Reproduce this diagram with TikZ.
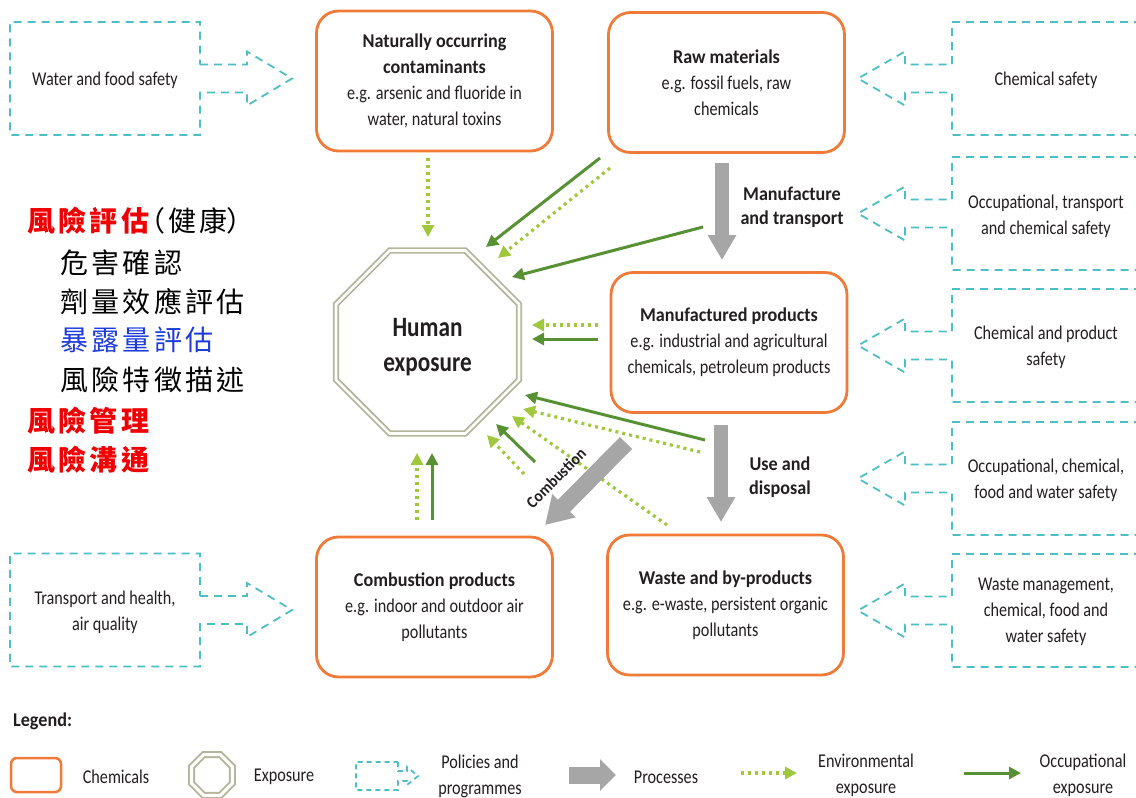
\documentclass[tikz,border=0pt]{standalone}
\usepackage{fontspec}
\setmainfont{Carlito}[FakeStretch=0.83]
\newfontfamily\boldf{Carlito}[FakeStretch=0.93]
\newfontfamily\cjk{Noto Sans CJK TC}[LetterSpace=12]
\usetikzlibrary{arrows.meta,shapes.geometric}
\definecolor{orng}{RGB}{240,122,55}
\definecolor{occg}{RGB}{88,145,52}
\definecolor{envg}{RGB}{160,200,60}
\definecolor{teal2}{RGB}{75,190,198}
\definecolor{octc}{RGB}{180,182,155}
\definecolor{procg}{RGB}{166,166,166}
\definecolor{txtc}{RGB}{35,31,32}
\definecolor{cjkred}{RGB}{240,0,0}
\definecolor{cjkblue}{RGB}{30,60,220}
\newcommand\bt[1]{{\boldf\bfseries #1}}
\newcommand\boxfont{\fontsize{19.5}{26}\selectfont}
\newcommand\octfont{\fontsize{28}{35}\selectfont\bfseries}
\newcommand\lblfont{\fontsize{19.5}{24}\selectfont\boldf\bfseries}
\newcommand\cbfont{\fontsize{16.5}{18}\selectfont\boldf\bfseries}
\newcommand\cjkfont{\fontsize{28}{30}\selectfont\cjk}
\tikzset{
  chem/.style={draw=orng, line width=2.8pt, rounded corners=22pt, minimum width=236pt, minimum height=140pt, align=center, font=\boxfont, text=txtc, inner sep=0pt},
  occ/.style={draw=occg, line width=3pt, -{Triangle[length=12pt,width=12pt]}},
  env/.style={draw=envg, line width=3.2pt, dash pattern=on 3pt off 4pt, -{Triangle[length=12pt,width=12pt]}},
  proc/.style={draw=procg, line width=14pt, -{Triangle[length=25pt,width=27pt]}},
  pol/.style={draw=teal2, line width=1.8pt, dash pattern=on 8pt off 6pt},
  poltxt/.style={align=center, font=\boxfont, text=txtc, inner sep=0pt},
  lbl/.style={align=center, font=\lblfont, text=txtc, inner sep=0pt},
  octo/.style={regular polygon, regular polygon sides=8, draw=octc, double=white, inner sep=0pt},
  cjkline/.style={anchor=west, inner sep=0pt, font=\cjkfont},
  polL/.pic={\draw[pol] (95,-14) -- (142,-14) -- (142,-27) -- (187,0) -- (142,27) -- (142,14) -- (95,14) -- (95,56.5) -- (-95,56.5) -- (-95,-56.5) -- (95,-56.5) -- cycle;},
  polR/.pic={\draw[pol] (190,-56.5) -- (0,-56.5) -- (0,-14) -- (-47,-14) -- (-47,-27) -- (-94,0) -- (-47,27) -- (-47,14) -- (0,14) -- (0,56.5) -- (190,56.5);}
}
\begin{document}
\begin{tikzpicture}[x=1pt,y=-1pt]
\path[use as bounding box, fill=white] (0,0) rectangle (1136,798);
\begin{scope}
\clip (0,0) rectangle (1136,798);
% policy shapes
\pic at (105,78.5) {polL};
\pic at (105,610) {polL};
\pic at (952,78.5) {polR};
\pic at (952,213.5) {polR};
\pic at (952,345.5) {polR};
\pic at (952,478.5) {polR};
\pic at (952,610.5) {polR};
\end{scope}
\node[poltxt] (p1) at (105,80) {Water and food safety};
\node[poltxt] (p2) at (105,612) {Transport and health,\\air quality};
\node[poltxt] (p3) at (1046,80) {Chemical safety};
\node[poltxt] (p4) at (1046,216) {Occupational, transport\\and chemical safety};
\node[poltxt] (p5) at (1046,347) {Chemical and product\\safety};
\node[poltxt] (p6) at (1046,480) {Occupational, chemical,\\food and water safety};
\node[poltxt] (p7) at (1046,612) {Waste management,\\chemical, food and\\water safety};

% chemical boxes
\node[chem] (nat) at (434.5,81) {\bt{Naturally occurring}\\\bt{contaminants}\\e.g. arsenic and fluoride in\\water, natural toxins};
\node[chem] (raw) at (726.5,82.5) {\bt{Raw materials}\\e.g. fossil fuels, raw\\chemicals};
\node[chem] (man) at (729,342.5) {\bt{Manufactured products}\\e.g. industrial and agricultural\\chemicals, petroleum products};
\node[chem] (comb) at (434.5,607) {\bt{Combustion products}\\e.g. indoor and outdoor air\\pollutants};
\node[chem] (waste) at (725.5,605) {\bt{Waste and by-products}\\e.g. e-waste, persistent organic\\pollutants};

% human exposure
\node[octo, minimum size=198pt, line width=1.8pt, double distance=2.6pt] (hum) at (427.5,342) {};
\node[font=\octfont, align=center, text=txtc, inner sep=0pt] (humt) at (427.5,347) {Human\\exposure};

% connector coordinates
\coordinate (a1s) at (428,158); \coordinate (a1e) at (428,237);
\coordinate (a2s) at (600,158); \coordinate (a2e) at (486,247);
\coordinate (a3s) at (610,168); \coordinate (a3e) at (498,258);
\coordinate (a4s) at (703,227); \coordinate (a4e) at (512,277);
\coordinate (a5s) at (598,325); \coordinate (a5e) at (532,325);
\coordinate (a6s) at (598,339); \coordinate (a6e) at (532,339);
\coordinate (a7s) at (705,440); \coordinate (a7e) at (525,395);
\coordinate (a8s) at (700,452); \coordinate (a8e) at (523,409);
\coordinate (a9s) at (667,525); \coordinate (a9e) at (512,416);
\coordinate (b1s) at (535,462); \coordinate (b1e) at (496,424);
\coordinate (b2s) at (524,474); \coordinate (b2e) at (487,435);
\coordinate (b3s) at (417,520); \coordinate (b3e) at (417,453);
\coordinate (b4s) at (432,520); \coordinate (b4e) at (432,453);

\draw[env] (a1s) -- (a1e);
\draw[occ] (a2s) -- (a2e);
\draw[env] (a3s) -- (a3e);
\draw[occ] (a4s) -- (a4e);
\draw[env] (a5s) -- (a5e);
\draw[occ] (a6s) -- (a6e);
\draw[occ] (a7s) -- (a7e);
\draw[env] (a8s) -- (a8e);
\draw[env] (a9s) -- (a9e);
\draw[occ] (b1s) -- (b1e);
\draw[env] (b2s) -- (b2e);
\draw[env] (b3s) -- (b3e);
\draw[occ] (b4s) -- (b4e);

% process arrows
\coordinate (m1s) at (722,163); \coordinate (m1e) at (722,260);
\coordinate (m2s) at (721,425); \coordinate (m2e) at (721,522);
\coordinate (m3s) at (626,443); \coordinate (m3e) at (545,525);
\draw[proc] (m1s) -- (m1e);
\draw[proc] (m2s) -- (m2e);
\draw[proc, line width=17pt, -{Triangle[length=27pt,width=31pt]}] (m3s) -- (m3e);
\node[lbl] (l1) at (792,207) {Manufacture\\and transport};
\node[lbl] (l2) at (780,477) {Use and\\disposal};
\node[lbl, font=\cbfont, rotate=45] (l3) at (556,478) {Combustion};

% Chinese text
\node[cjkline] (c1) at (27,221) {{\color{cjkred}\bfseries 風險評估}\kern-12pt（健康\kern-2pt）};
\node[cjkline] (c2) at (60,263) {危害確認};
\node[cjkline] (c3) at (60,302) {劑量效應評估};
\node[cjkline, text=cjkblue] (c4) at (60,340) {暴露量評估};
\node[cjkline] (c5) at (60,380) {風險特徵描述};
\node[cjkline, text=cjkred, font=\cjkfont\bfseries] (c6) at (27,421) {風險管理};
\node[cjkline, text=cjkred, font=\cjkfont\bfseries] (c7) at (27,460) {風險溝通};

% legend
\node[anchor=west, inner sep=0pt, font=\boxfont\boldf\bfseries, text=txtc] (leg) at (13,721) {Legend:};
\node[draw=orng, line width=2.5pt, rounded corners=6pt, minimum width=50pt, minimum height=34pt] (lchem) at (36,775) {};
\node[poltxt] (lchemt) at (116,777) {Chemicals};
\node[octo, minimum size=44pt, line width=2pt, double distance=3pt] (lexp) at (212,775) {};
\node[poltxt] (lexpt) at (284,777) {Exposure};
\draw[pol, dash pattern=on 5pt off 4pt] (398,762) -- (398,771) -- (407,771) -- (407,767) -- (418,776) -- (407,785) -- (407,781) -- (398,781) -- (398,790) -- (356,790) -- (356,762) -- cycle;
\node[poltxt] (lpolt) at (480,776) {Policies and\\programmes};
\coordinate (lps) at (569,775); \coordinate (lpe) at (616,775);
\draw[proc, line width=17pt, -{Triangle[length=16pt,width=31pt]}] (lps) -- (lpe);
\node[poltxt] (lproct) at (666,777) {Processes};
\coordinate (les) at (741,773); \coordinate (lee) at (797,773);
\draw[env] (les) -- (lee);
\node[poltxt] (lenvt) at (866,775) {Environmental\\exposure};
\coordinate (los) at (964,773); \coordinate (loe) at (1021,773);
\draw[occ] (los) -- (loe);
\node[poltxt] (locct) at (1083,775) {Occupational\\exposure};
\end{tikzpicture}
\end{document}
